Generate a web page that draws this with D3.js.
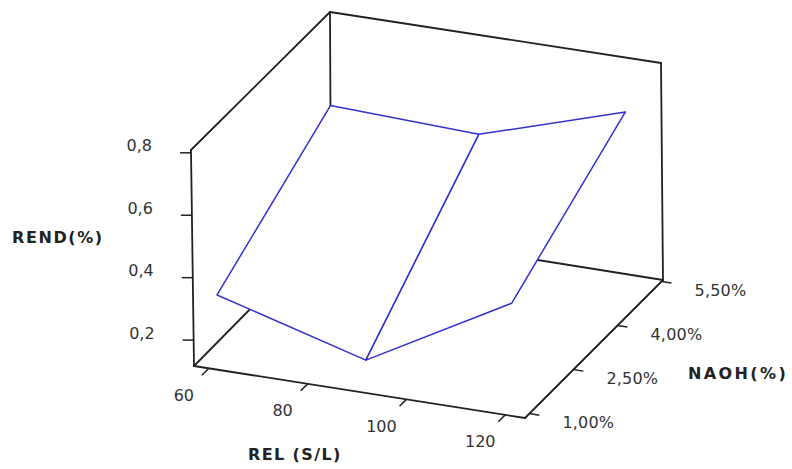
<!DOCTYPE html>
<html><head><meta charset="utf-8">
<script src="https://cdn.jsdelivr.net/npm/d3@7/dist/d3.min.js"></script>
<style>body{margin:0;background:#fff} svg{display:block}</style>
</head><body>
<svg id="chart" width="792" height="469"></svg>
<script>
// ---- data ----
const relTicks = [60, 80, 100, 120];
const relTickLabels = ["60", "80", "100", "120"];
const naohTicks = [1.0, 2.5, 4.0, 5.5];
const naohTickLabels = ["1,00%", "2,50%", "4,00%", "5,50%"];
const rendTicks = [0.2, 0.4, 0.6, 0.8];
const rendTickLabels = ["0,2", "0,4", "0,6", "0,8"];
// surface grid
const surfRel = [57, 87, 116.7];
const surfNaoh = [1.66, 5.55];
const rendAtLowNaoh = [0.268, 0.134, 0.390];
const rendAtHighNaoh = [0.508, 0.490, 0.635];
const surfRend = [rendAtLowNaoh, rendAtHighNaoh];

// ---- scales (data -> unit cube) ----
const xS = d3.scaleLinear().domain([57, 124]).range([0, 1]);
const yS = d3.scaleLinear().domain([0.85, 5.55]).range([0, 1]);
const zS = d3.scaleLinear().domain([0.117, 0.809]).range([0, 1]);

// projected cube corners (layout)
const C = {
  "000": [194, 366], "100": [525, 418], "010": [331, 227], "110": [663, 280],
  "001": [191, 150], "101": [522, 202], "011": [330, 12], "111": [661, 63]
};
function lerp(p, q, t) { return [p[0] + (q[0] - p[0]) * t, p[1] + (q[1] - p[1]) * t]; }
function proj(a, b, c) {
  const p00 = lerp(C["000"], C["100"], a), p10 = lerp(C["010"], C["110"], a);
  const p01 = lerp(C["001"], C["101"], a), p11 = lerp(C["011"], C["111"], a);
  const q0 = lerp(p00, p10, b), q1 = lerp(p01, p11, b);
  return lerp(q0, q1, c);
}
const P = (x, y, z) => proj(xS(x), yS(y), zS(z));

const svg = d3.select("#chart");
const font = "'DejaVu Sans', Verdana, sans-serif";
const line = d3.line();

// ---- walls ----
const wallEdges = [
  [[0,0,0],[0,0,1]], [[0,0,1],[0,1,1]], [[0,1,1],[0,1,0]], [[0,1,0],[0,0,0]],
  [[0,1,1],[1,1,1]], [[1,1,1],[1,1,0]], [[1,1,0],[0,1,0]],
  [[0,0,0],[1,0,0]], [[1,0,0],[1,1,0]]
];
svg.append("g").selectAll("path").data(wallEdges).join("path")
  .attr("d", e => line(e.map(p => proj(...p))))
  .attr("fill", "none").attr("stroke", "#222").attr("stroke-width", 1.8)
  .attr("stroke-linecap", "round");

// ---- ticks ----
const tickG = svg.append("g").attr("stroke", "#222").attr("stroke-width", 1.5);
rendTicks.forEach(v => {
  const p = proj(0, 0, zS(v));
  tickG.append("line").attr("x1", p[0]).attr("y1", p[1]).attr("x2", p[0] - 11).attr("y2", p[1]);
});
relTicks.forEach(v => {
  const p = proj(xS(v), 0, 0), q = proj(xS(v), -0.05, 0);
  tickG.append("line").attr("x1", p[0]).attr("y1", p[1]).attr("x2", q[0]).attr("y2", q[1]);
});
naohTicks.forEach(v => {
  const p = proj(1, yS(v), 0), q = proj(1.03, yS(v), 0);
  tickG.append("line").attr("x1", p[0]).attr("y1", p[1]).attr("x2", q[0]).attr("y2", q[1]);
});

// ---- surface ----
const cells = [];
for (let j = 0; j < surfNaoh.length - 1; j++)
  for (let i = 0; i < surfRel.length - 1; i++)
    cells.push([
      P(surfRel[i], surfNaoh[j], surfRend[j][i]),
      P(surfRel[i+1], surfNaoh[j], surfRend[j][i+1]),
      P(surfRel[i+1], surfNaoh[j+1], surfRend[j+1][i+1]),
      P(surfRel[i], surfNaoh[j+1], surfRend[j+1][i])
    ]);
svg.append("g").selectAll("path").data(cells).join("path")
  .attr("d", c => line(c) + "Z")
  .attr("fill", "#fff").attr("stroke", "#3232cc").attr("stroke-width", 1.5)
  .attr("stroke-linejoin", "round");

// ---- labels ----
const lab = svg.append("g").attr("font-family", font).attr("font-size", 16).attr("fill", "#333");
rendTicks.forEach((v, i) => {
  const p = proj(0, 0, zS(v));
  lab.append("text").attr("x", p[0] - 39).attr("y", p[1] - 6)
    .attr("text-anchor", "end").attr("dominant-baseline", "middle").text(rendTickLabels[i]);
});
relTicks.forEach((v, i) => {
  const p = proj(xS(v), 0, 0);
  lab.append("text").attr("x", p[0] - 25).attr("y", p[1] + 28)
    .attr("text-anchor", "middle").attr("dominant-baseline", "middle").text(relTickLabels[i]);
});
naohTicks.forEach((v, i) => {
  const p = proj(1, yS(v), 0);
  lab.append("text").attr("x", p[0] + 33).attr("y", p[1] + 10)
    .attr("text-anchor", "start").attr("dominant-baseline", "middle")
    .attr("letter-spacing", 0.2).text(naohTickLabels[i]);
});

const tl = svg.append("g").attr("font-family", font).attr("font-size", 16)
  .attr("font-weight", "bold").attr("fill", "#222").attr("dominant-baseline", "middle");
tl.append("text").attr("x", 12).attr("y", 238).attr("letter-spacing", 1.6).text("REND(%)");
tl.append("text").attr("x", 248).attr("y", 455).attr("letter-spacing", 1.4).text("REL (S/L)");
tl.append("text").attr("x", 688).attr("y", 374).attr("letter-spacing", 2.4).text("NAOH(%)");
</script>
</body></html>
